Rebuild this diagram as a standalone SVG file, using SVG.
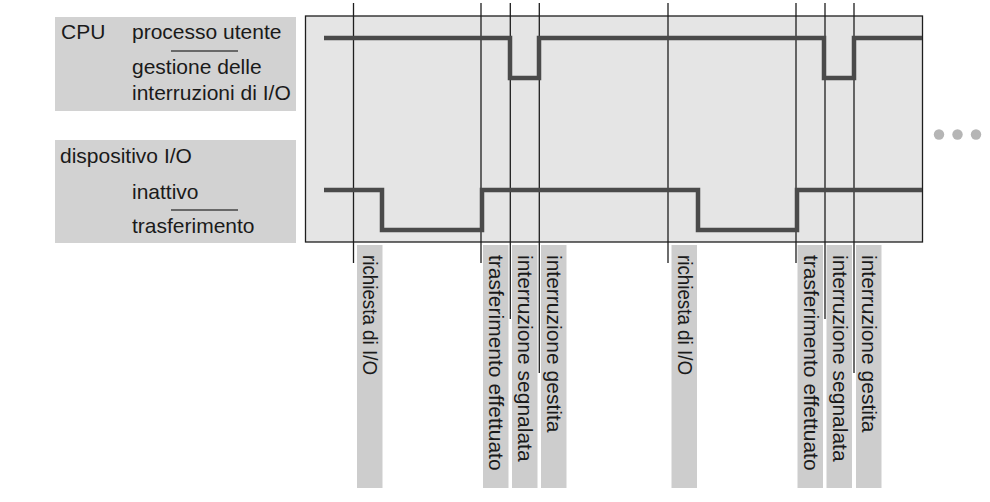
<svg xmlns="http://www.w3.org/2000/svg" width="990" height="502" viewBox="0 0 990 502">
<style>
.lbl{font-family:"Liberation Sans",Arial,sans-serif;font-size:21px;fill:#1a1a1a}
.vl{font-family:"Liberation Sans",Arial,sans-serif;font-size:21px;fill:#1a1a1a}
.vs{font-family:"Liberation Sans",Arial,sans-serif;font-size:19.5px;fill:#1a1a1a}
.panel{fill:#d2d2d2}
.strip{fill:#cdcdcd}
.tick{stroke:#1e1e1e;stroke-width:1.3;fill:none}
.sig{stroke:#4a4a4a;stroke-width:4.5;fill:none;stroke-linejoin:miter}
.ul{stroke:#444;stroke-width:1.6}
.dot{fill:#b5b5b5}
</style>
<rect width="990" height="502" fill="#fff"/>
<g id="cpu-legend">
<rect class="panel" x="55" y="17" width="241" height="94"/>
<text class="lbl" x="61" y="39">CPU</text>
<text class="lbl" x="132" y="39">processo utente</text>
<line class="ul" x1="171" y1="51" x2="238" y2="51"/>
<text class="lbl" x="132" y="74">gestione delle</text>
<text class="lbl" x="132" y="100">interruzioni di I/O</text>
</g>
<g id="device-legend">
<rect class="panel" x="55" y="140" width="241" height="103"/>
<text class="lbl" x="60" y="163">dispositivo I/O</text>
<text class="lbl" x="132" y="199">inattivo</text>
<line class="ul" x1="171" y1="210" x2="238" y2="210"/>
<text class="lbl" x="132" y="233">trasferimento</text>
</g>
<g id="timeline">
<rect x="305.5" y="16" width="617" height="226" fill="#e5e5e5" stroke="#1e1e1e" stroke-width="1.3"/>
</g>
<g id="labels">
<rect class="strip" x="357" y="245" width="25.5" height="243"/>
<rect class="strip" x="483" y="245" width="25.5" height="243"/>
<rect class="strip" x="512" y="245" width="25.5" height="243"/>
<rect class="strip" x="541" y="245" width="25.5" height="243"/>
<rect class="strip" x="671.5" y="245" width="25.5" height="243"/>
<rect class="strip" x="797.5" y="245" width="25.5" height="243"/>
<rect class="strip" x="826.5" y="245" width="25.5" height="243"/>
<rect class="strip" x="856" y="245" width="25.5" height="243"/>
<text class="vs" transform="translate(363,255) rotate(90)" textLength="120" lengthAdjust="spacingAndGlyphs">richiesta di I/O</text>
<text class="vl" transform="translate(489,255) rotate(90)">trasferimento effettuato</text>
<text class="vl" transform="translate(518,255) rotate(90)">interruzione segnalata</text>
<text class="vl" transform="translate(547,255) rotate(90)">interruzione gestita</text>
<text class="vs" transform="translate(677.5,255) rotate(90)" textLength="120" lengthAdjust="spacingAndGlyphs">richiesta di I/O</text>
<text class="vl" transform="translate(803.5,255) rotate(90)">trasferimento effettuato</text>
<text class="vl" transform="translate(832.5,255) rotate(90)">interruzione segnalata</text>
<text class="vl" transform="translate(862,255) rotate(90)">interruzione gestita</text>
</g>
<g id="connectors">
<line class="tick" x1="353.5" y1="3" x2="353.5" y2="263"/>
<line class="tick" x1="481" y1="3" x2="481" y2="263"/>
<line class="tick" x1="510.3" y1="3" x2="510.3" y2="319"/>
<line class="tick" x1="539.3" y1="3" x2="539.3" y2="373"/>
<line class="tick" x1="668" y1="3" x2="668" y2="263"/>
<line class="tick" x1="796" y1="3" x2="796" y2="263"/>
<line class="tick" x1="825" y1="3" x2="825" y2="319"/>
<line class="tick" x1="854" y1="3" x2="854" y2="373"/>
<polyline class="sig" points="324,38 510,38 510,78 539,78 539,38 824,38 824,78 854,78 854,38 922,38"/>
<polyline class="sig" points="324,190 382,190 382,230 482,230 482,190 698,190 698,230 797,230 797,190 922,190"/>
</g>
<g id="more">
<circle class="dot" cx="939" cy="134.5" r="5.2"/>
<circle class="dot" cx="957.5" cy="134.5" r="5.2"/>
<circle class="dot" cx="976" cy="134.5" r="5.2"/>
</g>
</svg>
